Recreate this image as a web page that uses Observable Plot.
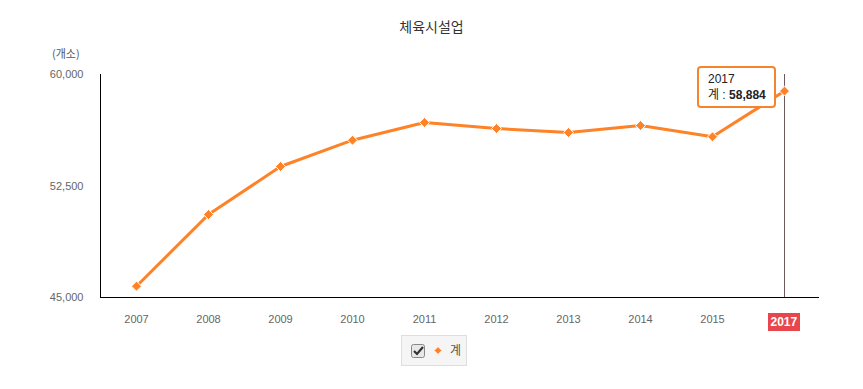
<!DOCTYPE html>
<html><head><meta charset="utf-8">
<script src="https://cdn.jsdelivr.net/npm/d3@7"></script>
<script src="https://cdn.jsdelivr.net/npm/@observablehq/plot@0.6"></script>
<style>
body{margin:0;background:#fff;font-family:"Liberation Sans","Noto Sans CJK KR",sans-serif;}
#wrap{position:relative;width:863px;height:389px;overflow:hidden;}
.abs{position:absolute;}
#title{left:0;width:863px;top:16px;text-align:center;font-size:14px;color:#333;font-family:"Noto Sans CJK KR",sans-serif;}
#unit{left:52px;top:45px;font-size:11px;color:#555;font-family:"Noto Sans CJK KR",sans-serif;}
#tip{background:#fff;border:2px solid #f5842f;border-radius:4px;padding:3px 8px 3px 9px;font-size:12px;color:#222;line-height:16px;white-space:nowrap;}
#legend{left:401px;top:335px;width:64px;height:29px;background:#f5f5f5;border:1px solid #dedede;}
#hl{background:#e8464c;color:#fff;font-weight:bold;font-size:12px;padding:2px 3px;line-height:14px;}
</style></head>
<body><div id="wrap"></div>
<script>
const years = ["2007","2008","2009","2010","2011","2012","2013","2014","2015","2017"];
const totals = [45760, 50580, 53810, 55580, 56770, 56365, 56095, 56567, 55807, 58884];
const yTicks = [45000, 52500, 60000];
const seriesName = "계";
const chartTitle = "체육시설업";
const unitLabel = "(개소)";
const highlightYear = "2017";
const lineColor = "#fd8228";

const data = years.map((y, i) => ({year: y, value: totals[i]}));
const W = 863, H = 389;
const plot = Plot.plot({
  width: W, height: H,
  marginTop: 74, marginBottom: 92, marginLeft: 100, marginRight: 44,
  style: {fontFamily: '"Liberation Sans","Noto Sans CJK KR",sans-serif', fontSize: "11px", background: "transparent"},
  x: {type: "point", domain: years, range: [132, 787], padding: 0, label: null},
  y: {domain: [45000, 60000], label: null},
  marks: [
    Plot.gridY(yTicks, {stroke: "#e6e6e6", strokeOpacity: 1, x1: 100, x2: 819}),
    Plot.ruleX([highlightYear], {stroke: "#6e5a5a", strokeWidth: 1, y1: 60000, y2: 45000}),
    Plot.axisY(yTicks, {tickSize: 0, tickPadding: 17, tickFormat: d3.format(","), fill: "#666", color: "#666", fontSize: 11, label: null}),
    Plot.axisX({tickSize: 0, tickPadding: 18, fill: "#666", color: "#666", fontSize: 11, label: null,
      tickFormat: d => d === highlightYear ? "" : d}),
    Plot.line(data, {x: "year", y: "value", stroke: lineColor, strokeWidth: 3}),
    Plot.dot(data, {x: "year", y: "value", symbol: "diamond2", r: 4.5, fill: lineColor, stroke: "#fff", strokeWidth: 1})
  ]
});
const wrap = document.getElementById("wrap");
wrap.appendChild(plot);
const svg = d3.select(plot);
const xs = plot.scale("x"), ys = plot.scale("y");
const g = svg.append("g");
g.append("line").attr("x1", 100).attr("x2", 819).attr("y1", ys.apply(45000)+0.5).attr("y2", ys.apply(45000)+0.5).attr("stroke", "#000");
g.append("line").attr("x1", 100.5).attr("x2", 100.5).attr("y1", ys.apply(60000)).attr("y2", ys.apply(45000)).attr("stroke", "#000");

function addDiv(id, cls, html){const d=document.createElement("div");d.id=id;d.className=cls;d.innerHTML=html;wrap.appendChild(d);return d;}
addDiv("title","abs",chartTitle);
addDiv("unit","abs",unitLabel);
const hl = addDiv("hl","abs",highlightYear);
const hx = xs.apply(highlightYear);
hl.style.left = (hx - hl.offsetWidth/2) + "px";
hl.style.top = (ys.apply(45000) + 16) + "px";
const last = data[data.length-1];
const tip = addDiv("tip","abs", `${last.year}<br>${seriesName} : <b>${d3.format(",")(last.value)}</b>`);
tip.style.left = (xs.apply(last.year) - 8 - tip.offsetWidth) + "px";
tip.style.top = (ys.apply(last.value) - 25) + "px";
const lg = addDiv("legend","abs",
 `<svg width="64" height="29">
   <rect x="9.5" y="8.5" width="13" height="13" rx="2" fill="#e8e8e8" stroke="#888"/>
   <path d="M12 15 l3 3 l6 -7" fill="none" stroke="#333" stroke-width="2.2"/>
   <path d="M36 10.5 l4 4 l-4 4 l-4 -4z" fill="${lineColor}" stroke="#fff" stroke-width="1"/>
   <text x="48" y="19" font-size="12" fill="#555" font-family="Noto Sans CJK KR">${seriesName}</text>
  </svg>`);
</script></body></html>
